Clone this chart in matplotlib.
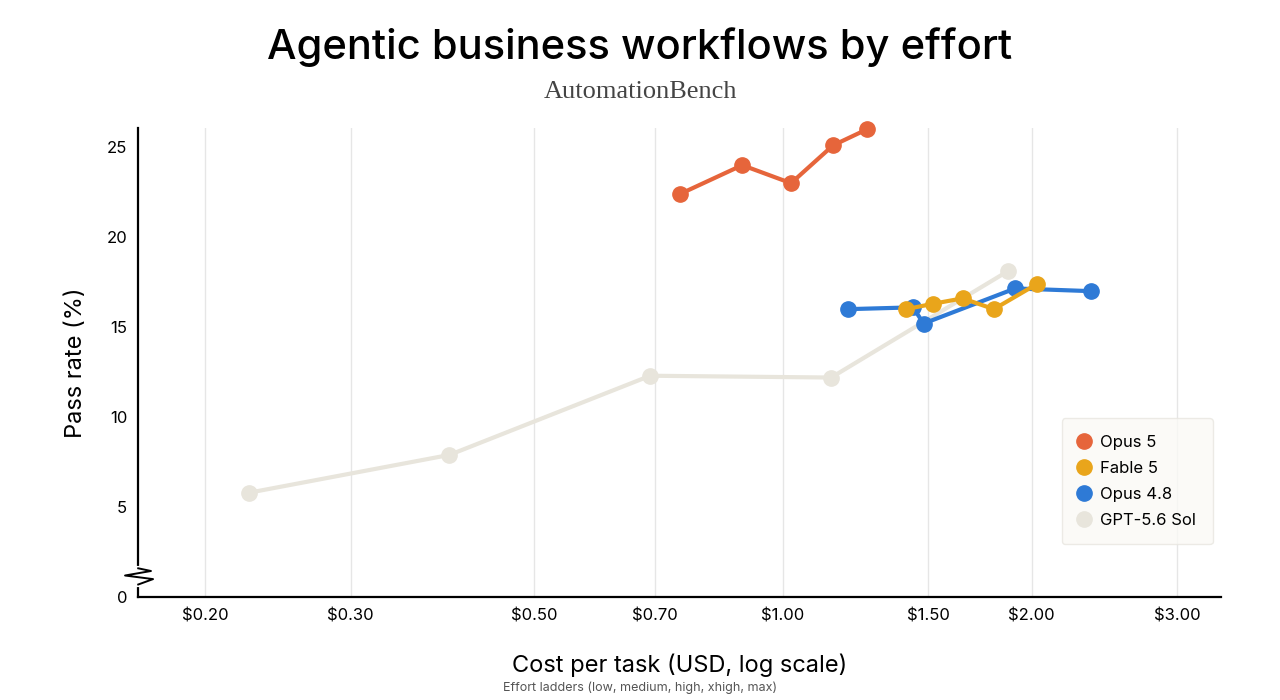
import matplotlib
matplotlib.use("Agg")
import matplotlib.pyplot as plt
from matplotlib.ticker import FixedLocator, NullLocator

plt.rcParams["font.family"] = ["Inter", "DejaVu Sans"]

opus5_cost = [0.751, 0.893, 1.023, 1.150, 1.265]
opus5_pass = [22.4, 24.0, 23.0, 25.1, 26.0]
fable5_cost = [1.41, 1.52, 1.65, 1.80, 2.03]
fable5_pass = [16.0, 16.3, 16.6, 16.0, 17.4]
opus48_cost = [1.20, 1.437, 1.48, 1.91, 2.36]
opus48_pass = [16.0, 16.1, 15.2, 17.15, 17.0]
gpt_cost = [0.226, 0.395, 0.691, 1.144, 1.87]
gpt_pass = [5.8, 7.9, 12.3, 12.2, 18.1]

xticks = [0.20, 0.30, 0.50, 0.70, 1.00, 1.50, 2.00, 3.00]
xlabels = ["$0.20", "$0.30", "$0.50", "$0.70", "$1.00", "$1.50", "$2.00", "$3.00"]
yticks = [0, 5, 10, 15, 20, 25]

fig = plt.figure(figsize=(12.8, 7.0), dpi=100)
ax = fig.add_axes([0.108, 0.147, 0.846, 0.67])

series = [
    ("GPT-5.6 Sol", gpt_cost, gpt_pass, "#E8E5DC"),
    ("Opus 4.8", opus48_cost, opus48_pass, "#2E7AD6"),
    ("Fable 5", fable5_cost, fable5_pass, "#E9A51B"),
    ("Opus 5", opus5_cost, opus5_pass, "#E6653B"),
]
handles = {}
for name, xs, ys, c in series:
    h, = ax.plot(xs, ys, "-o", color=c, lw=3, ms=11, label=name, zorder=3,
                 clip_on=False)
    handles[name] = h

ax.set_xscale("log")
ax.set_xlim(0.166, 3.39)
ax.set_ylim(0, 26.06)
ax.xaxis.set_major_locator(FixedLocator(xticks))
ax.xaxis.set_minor_locator(NullLocator())
ax.set_xticklabels(xlabels)
ax.set_yticks(yticks)
ax.tick_params(length=0, labelsize=12, pad=8)
ax.grid(axis="x", color="#E6E6E6", lw=1, zorder=0)
for s in ["top", "right"]:
    ax.spines[s].set_visible(False)
ax.spines["left"].set_linewidth(1.6)
ax.spines["bottom"].set_linewidth(1.6)

# axis break mark (white gap plus small zigzag)
ax.plot([0.166, 0.166], [0.7, 1.6], color="white", lw=3, clip_on=False, zorder=4)
ax.plot([0.166, 0.173, 0.160, 0.172, 0.166], [0.7, 1.0, 1.2, 1.45, 1.6],
        color="black", lw=1.4, clip_on=False, zorder=5)

ax.set_xlabel("Cost per task (USD, log scale)", fontsize=17, labelpad=22)
ax.set_ylabel("Pass rate (%)", fontsize=17, labelpad=14)

order = ["Opus 5", "Fable 5", "Opus 4.8", "GPT-5.6 Sol"]
leg = ax.legend([handles[n] for n in order], order, loc="lower right",
                bbox_to_anchor=(1.0, 0.095), frameon=True, fontsize=12,
                handlelength=0.6, handletextpad=0.7, borderpad=1.0,
                labelspacing=0.65, fancybox=True)
for h in leg.legend_handles:
    h.set_linestyle("none")
leg.get_frame().set_facecolor("#FAF9F6")
leg.get_frame().set_edgecolor("#E8E6E0")

fig.text(0.5, 0.933, "Agentic business workflows by effort", ha="center",
         va="center", fontsize=30, fontweight="medium")
fig.text(0.5, 0.868, "AutomationBench", ha="center", va="center", fontsize=19,
         family=["Liberation Serif", "DejaVu Serif"], color="#444444")
fig.text(0.5, 0.018, "Effort ladders (low, medium, high, xhigh, max)",
         ha="center", va="center", fontsize=9, color="#555555")

fig.savefig("out.png", dpi=100, facecolor="white")
